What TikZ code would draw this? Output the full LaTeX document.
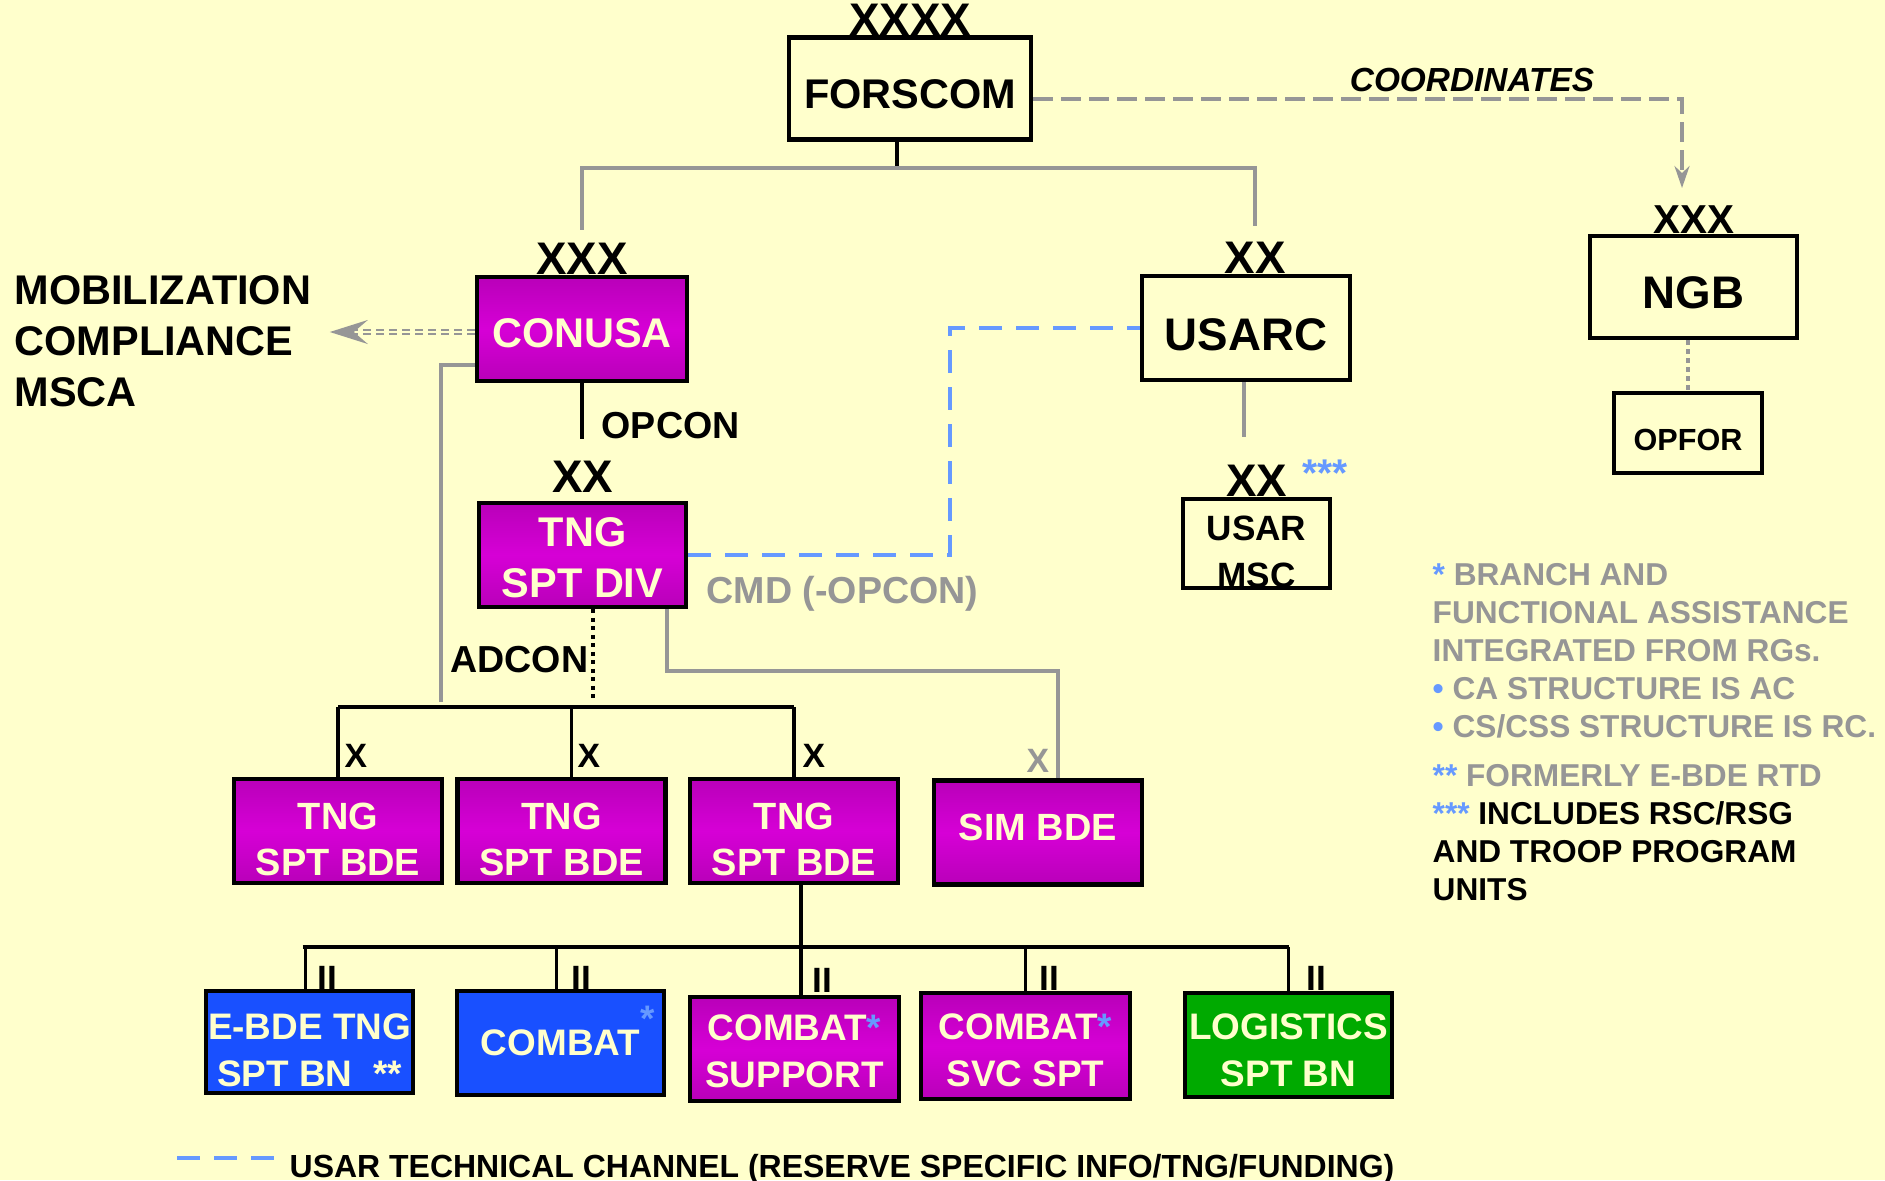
\documentclass[tikz,border=0pt]{standalone}
\usepackage{fontspec}
\setmainfont{Liberation Sans}
\usetikzlibrary{arrows.meta,calc}

\definecolor{bgyellow}{RGB}{255,255,204}
\definecolor{linegray}{RGB}{150,150,150}
\definecolor{techblue}{RGB}{102,153,255}
\definecolor{magdark}{RGB}{185,0,185}
\definecolor{maglight}{RGB}{214,0,214}
\definecolor{unitblue}{RGB}{25,80,255}
\definecolor{unitgreen}{RGB}{0,170,0}
\definecolor{cream}{RGB}{255,255,204}

% pushes the text of a box down: taller first line
\newcommand{\textdrop}[1]{\rule{0pt}{\dimexpr0.72em+#1\relax}}

\begin{document}
\begin{tikzpicture}[
        >={Stealth[length=0.22cm,width=0.15cm]},
        font=\bfseries,
        unitbox/.style={
            rectangle,
            draw=black,
            line width=1.3pt,
            align=center,
            inner sep=0pt,
            minimum width=2.08cm,
            minimum height=1.04cm
        },
        cmdbox/.style={unitbox, text=black},
        magbox/.style={unitbox, top color=magdark, bottom color=magdark, middle color=maglight, text=cream},
        bluebox/.style={unitbox, fill=unitblue, text=cream},
        greenbox/.style={unitbox, fill=unitgreen, text=cream},
        bigtext/.style={font=\fontsize{11.8pt}{14.5pt}\selectfont\bfseries},
        hugetext/.style={font=\fontsize{13pt}{15pt}\selectfont\bfseries},
        unittext/.style={font=\fontsize{10.8pt}{13.1pt}\selectfont\bfseries},
        bntext/.style={font=\fontsize{10.5pt}{13.4pt}\selectfont\bfseries},
        echelon/.style={anchor=base, inner sep=0pt, font=\fontsize{13pt}{13pt}\selectfont\bfseries},
        sizelbl/.style={anchor=base west, inner sep=0pt, font=\fontsize{9.6pt}{9.6pt}\selectfont\bfseries},
        relation/.style={inner sep=0pt, font=\fontsize{10.7pt}{10.7pt}\selectfont\bfseries},
        blackline/.style={draw=black, line width=1pt},
        barline/.style={draw=black, line width=1.4pt},
        grayline/.style={draw=linegray, line width=1.1pt},
        coordline/.style={draw=linegray, line width=1pt, dash pattern=on 0.2cm off 0.08cm},
        dotline/.style={draw=black, line width=1.1pt, dash pattern=on 0.04cm off 0.045cm},
        graydots/.style={draw=linegray, line width=1pt, dash pattern=on 0.05cm off 0.04cm},
        techline/.style={draw=techblue, line width=1.2pt, dash pattern=on 0.23cm off 0.14cm}
    ]

    \fill[bgyellow] (0,0) rectangle (18.85,-11.8);
    \useasboundingbox (0,0) rectangle (18.85,-11.8);

    % headquarters
    \node[cmdbox, bigtext, minimum width=2.42cm, minimum height=1.02cm] (forscom) at (9.10,-0.885) {\textdrop{0.1cm}FORSCOM};
    \node[echelon] (xxxxfor) at (forscom.north) {XXXX};

    \node[magbox, bigtext, minimum width=2.10cm] (conusa) at (5.82,-3.29) {\textdrop{0.07cm}CONUSA};
    \node[echelon] (xxxconusa) at (conusa.north) {XXX};

    \node[cmdbox, hugetext] (usarc) at (12.46,-3.28) {\textdrop{0.12cm}USARC};
    \node[echelon] (xxusarc) at ([xshift=0.09cm]usarc.north) {XX};

    \node[cmdbox, hugetext, minimum width=2.07cm, minimum height=1.02cm] (ngb) at (16.935,-2.87) {\textdrop{0.1cm}NGB};
    \node[echelon, font=\fontsize{11.5pt}{11.5pt}\selectfont\bfseries] (xxxngb) at (ngb.north) {XXX};

    \node[cmdbox, font=\fontsize{8.7pt}{8.7pt}\selectfont\bfseries, minimum width=1.48cm, minimum height=0.80cm] (opfor) at (16.88,-4.33) {\textdrop{0.14cm}OPFOR};

    \node[magbox, bigtext, minimum width=2.07cm] (tngdiv) at (5.825,-5.55) {\textdrop{0.05cm}TNG\\SPT DIV};
    \node[echelon] (xxdiv) at ([yshift=0.08cm]tngdiv.north) {XX};

    \node[cmdbox, font=\fontsize{10pt}{13.1pt}\selectfont\bfseries, minimum width=1.47cm, minimum height=0.89cm] (usarmsc) at (12.565,-5.435) {\textdrop{0.16cm}USAR\\MSC};
    \node[echelon] (xxmsc) at (usarmsc.north) {XX};
    \node[anchor=base west, inner sep=0pt, text=techblue, font=\fontsize{11pt}{11pt}\selectfont\bfseries] (mscnote) at (13.02,-4.86) {***};

    \node[anchor=north west, align=left, inner sep=0pt, bigtext] (mobtext) at (0.14,-2.75) {MOBILIZATION\\COMPLIANCE\\MSCA};

    % brigades
    \node[magbox, unittext] (bde1) at (3.38,-8.31) {\textdrop{0.16cm}TNG\\SPT BDE};
    \node[magbox, unittext] (bde2) at (5.615,-8.31) {\textdrop{0.16cm}TNG\\SPT BDE};
    \node[magbox, unittext] (bde3) at (7.94,-8.31) {\textdrop{0.16cm}TNG\\SPT BDE};
    \node[magbox, unittext] (simbde) at (10.38,-8.325) {SIM BDE\rule[-0.1cm]{0pt}{0.1cm}};

    \node[sizelbl] (xbde1) at (3.44,-7.67) {X};
    \node[sizelbl] (xbde2) at (5.77,-7.67) {X};
    \node[sizelbl] (xbde3) at (8.02,-7.67) {X};
    \node[sizelbl, text=linegray] (xsim) at (10.26,-7.72) {X};

    % battalions
    \node[bluebox, bntext, minimum width=2.07cm, minimum height=1.02cm] (ebde) at (3.095,-10.42) {\textdrop{0.15cm}E-BDE TNG\\SPT BN\ \ **};
    \node[bluebox, bntext, minimum width=2.07cm] (combat) at (5.605,-10.43) {COMBAT\rlap{\smash{\raisebox{0.24cm}{\textcolor{techblue}{*}}}}};
    \node[magbox, bntext, minimum width=2.09cm] (cbtspt) at (7.945,-10.49) {\textdrop{0.03cm}COMBAT\textcolor{techblue}{*}\\SUPPORT};
    \node[magbox, bntext, minimum width=2.09cm, minimum height=1.06cm] (cbtsvc) at (10.255,-10.46) {\textdrop{0.08cm}COMBAT\textcolor{techblue}{*}\\SVC SPT};
    \node[greenbox, bntext, minimum width=2.07cm] (logspt) at (12.885,-10.45) {\textdrop{0.1cm}LOGISTICS\\SPT BN};

    \node[sizelbl, font=\fontsize{10pt}{10pt}\selectfont\bfseries] (iiebde) at (3.17,-9.90) {II};
    \node[sizelbl, font=\fontsize{10pt}{10pt}\selectfont\bfseries] (iicombat) at (5.71,-9.90) {II};
    \node[sizelbl, font=\fontsize{10pt}{10pt}\selectfont\bfseries] (iicbtspt) at (8.12,-9.92) {II};
    \node[sizelbl, font=\fontsize{10pt}{10pt}\selectfont\bfseries] (iicbtsvc) at (10.39,-9.90) {II};
    \node[sizelbl, font=\fontsize{10pt}{10pt}\selectfont\bfseries] (iilogspt) at (13.06,-9.90) {II};

    % relationship labels
    \node[relation, anchor=base west] (opconlbl) at (6.01,-4.38) {OPCON};
    \node[relation, anchor=base east] (adconlbl) at (5.89,-6.72) {ADCON};
    \node[relation, anchor=base west, text=linegray] (cmdlbl) at (7.06,-6.03) {CMD (-OPCON)};
    \node[inner sep=0pt, font=\fontsize{9.5pt}{9.5pt}\selectfont\bfseries\itshape] (coordlbl) at (14.72,-0.80) {COORDINATES};

    % notes
    \node[anchor=north west, align=left, inner sep=0pt, text=linegray,
        font=\fontsize{9pt}{10.8pt}\selectfont\bfseries] (notes) at (14.32,-5.63)
    {\textcolor{techblue}{*} BRANCH AND\\
     FUNCTIONAL ASSISTANCE\\
     INTEGRATED FROM RGs.\\
     \textcolor{techblue}{•} CA STRUCTURE IS AC\\
     \textcolor{techblue}{•} CS/CSS STRUCTURE IS RC.\\[0.11cm]
     \textcolor{techblue}{**} FORMERLY E-BDE RTD\\
     \textcolor{techblue}{***} \textcolor{black}{INCLUDES RSC/RSG}\\
     \textcolor{black}{AND TROOP PROGRAM}\\
     \textcolor{black}{UNITS}};

    \node[anchor=base west, inner sep=0pt, font=\fontsize{9.1pt}{9.1pt}\selectfont\bfseries] (legtext) at (2.89,-11.77)
    {USAR TECHNICAL CHANNEL (RESERVE SPECIFIC INFO/TNG/FUNDING)};

    % connectors
    \coordinate (fsplit) at (8.97,-1.68);
    \draw[blackline] (forscom.south -| fsplit) -- (fsplit);
    \draw[grayline] ($(xxxconusa.north)+(0,0.13)$) |- (fsplit) -| ($(xxusarc.north)+(0,0.16)$);

    \coordinate (ngbin) at (16.82,-1.88);
    \draw[coordline, ->] ([yshift=-0.105cm]forscom.east) -| (ngbin);

    \draw[linegray, line width=0.55pt, double=bgyellow, double distance=0.6pt, dash pattern=on 0.08cm off 0.05cm,
        -{Stealth[length=0.38cm,width=0.24cm,inset=0.14cm]}, shorten >=0.18cm] ([yshift=-0.03cm]conusa.west) -- ([yshift=-0.03cm]conusa.west -| mobtext.east);

    \draw[blackline] (conusa.south) -- ($(conusa.south |- xxdiv.north)+(0,0.22)$);

    \coordinate (admbend) at (4.41,-7.02);
    \draw[grayline] ([yshift=0.18cm]conusa.south west) -| (admbend);

    \coordinate (adconend) at (5.93,-7.00);
    \draw[dotline] (tngdiv.south -| adconend) -- (adconend);

    \draw[grayline] ([xshift=-0.21cm]tngdiv.south east) -- ++(0,-0.62) -| ([xshift=0.2cm]simbde.north);

    \coordinate (techbend) at (9.50,-3.28);
    \draw[techline] (tngdiv.east) -| (techbend) -- (usarc.west);

    \draw[grayline] ([xshift=-0.02cm]usarc.south) -- ($(usarc.south |- xxmsc.north)+(-0.02,0.28)$);

    \draw[graydots] (ngb.south -| opfor.north) -- (opfor.north);

    \coordinate (bdebar) at (5.64,-7.07);
    \draw[barline] (bde1.north |- bdebar) -- (bde3.north |- bdebar);
    \draw[blackline] (bde1.north |- bdebar) -- (bde1.north);
    \draw[blackline] ([xshift=0.1cm]bde2.north |- bdebar) -- ([xshift=0.1cm]bde2.north);
    \draw[blackline] (bde3.north |- bdebar) -- (bde3.north);

    \coordinate (bnbar) at (8.01,-9.47);
    \draw[blackline] (bde3.south -| bnbar) -- (bnbar);
    \draw[barline] ([xshift=-0.07cm]ebde.north |- bnbar) -- (logspt.north |- bnbar);
    \draw[blackline] ([xshift=-0.04cm]ebde.north |- bnbar) -- ([xshift=-0.04cm]ebde.north);
    \draw[blackline] ([xshift=-0.04cm]combat.north |- bnbar) -- ([xshift=-0.04cm]combat.north);
    \draw[blackline] (bnbar) -- (bnbar |- cbtspt.north);
    \draw[blackline] (cbtsvc.north |- bnbar) -- (cbtsvc.north);
    \draw[blackline] (logspt.north |- bnbar) -- (logspt.north);

    % legend
    \coordinate (legstart) at (1.77,-11.58);
    \draw[techline] (legstart) -- ++(0.97,0);

\end{tikzpicture}
\end{document}
